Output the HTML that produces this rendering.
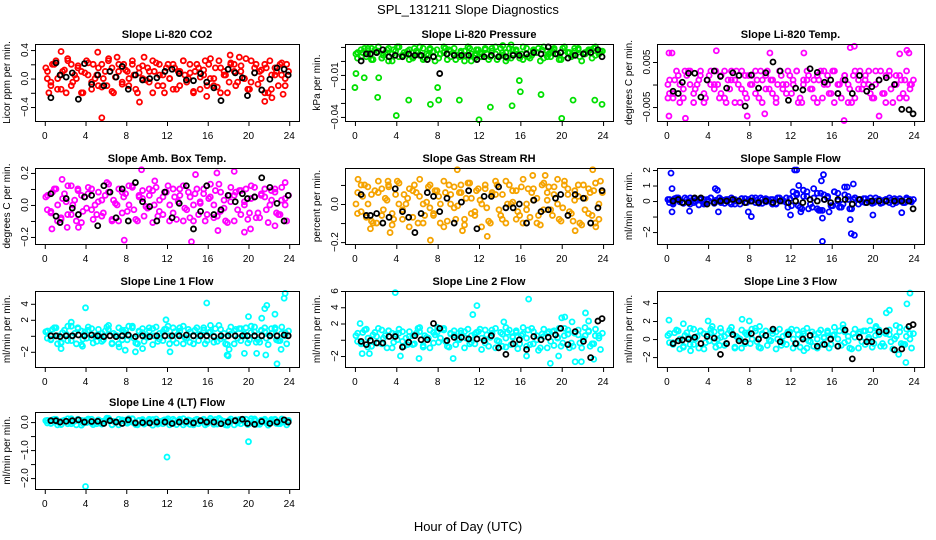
<!DOCTYPE html>
<html><head><meta charset="utf-8">
<style>
html,body{margin:0;padding:0;background:#fff;}
svg{display:block;font-family:"Liberation Sans",Arial,sans-serif;}
</style></head>
<body>
<svg id="chart" width="936" height="540" viewBox="0 0 936 540" xmlns="http://www.w3.org/2000/svg">
<rect width="936" height="540" fill="#fff"/>
<text x="468" y="14" text-anchor="middle" font-size="13">SPL_131211  Slope Diagnostics</text>
<text x="468" y="531" text-anchor="middle" font-size="13">Hour of Day (UTC)</text>
</svg>
<script>
const blackHours = [0.6,1.1,1.5,2.1,2.7,3.3,3.9,4.6,5.2,5.8,6.4,7.0,7.6,8.2,8.9,9.6,10.3,11.0,11.8,12.5,13.2,13.9,14.6,15.3,15.9,16.6,17.3,18.0,18.7,19.4,19.9,20.6,21.3,22.1,22.8,23.5,23.9];
const xTicks = [0,4,8,12,16,20,24];

// Panel 1: CO2
const co2A = [0.15,-0.1,0.25,0.05,-0.2,0.2,0.0,0.1,0.25,-0.15,0.05,0.2,-0.1,0.15,0.3,-0.05,0.1,0.2,-0.2,0.0,0.15,0.25,-0.1,0.05,0.2,-0.15,0.1,0.25,0.0,-0.2,0.15,0.05,0.2,-0.1,0.25,0.1,-0.05,0.2,0.3,0.0,-0.15,0.15,0.1,-0.2,0.25,0.05,0.2,-0.1];
const co2B = [0.0,0.2,-0.15,0.1,0.28,-0.05,0.15,-0.2,0.05,0.2,-0.1,0.0,0.25,-0.2,0.1,0.2,-0.1,0.05,0.15,0.3,-0.05,0.1,0.2,-0.2,0.0,0.15,-0.1,0.05,0.2,0.1,-0.15,0.25,0.0,0.15,-0.2,0.05,0.2,-0.1,0.1,0.28,-0.05,0.2,0.0,0.15,-0.15,0.1,0.05,0.2];
const co2C = [0.1,-0.05,0.2,0.0,-0.15,0.12,0.25,-0.1,0.05,0.18,-0.2,0.08,0.22,-0.05,0.0,0.15,-0.12,0.1,0.28,-0.18,0.02,0.2,-0.08,0.12,0.0,0.25,-0.15,0.08,0.18,-0.02,0.1,-0.2,0.22,0.05,-0.1,0.15,0.0,0.2,-0.15,0.1,0.25,-0.05,0.08,-0.18,0.2,0.02,0.12,-0.1,0.28,0.0,-0.12,0.15,0.05,-0.2,0.22,0.1,-0.05,0.18,0.0,-0.15,0.25,0.08,-0.08,0.12,0.2,-0.2,0.05,0.15,-0.1,0.22,0.0,0.1];
const co2OutH = [0.4,1.6,5.6,9.3,15.9,21.6,22.3,23.4,5.2,18.2];
const co2OutV = [-0.2,0.38,-0.55,-0.33,-0.25,-0.32,-0.27,-0.22,0.37,0.33];
const co2Black = [-0.27,0.22,0.05,0.02,0.08,-0.29,0.21,-0.08,0.05,-0.1,0.1,0.02,0.17,-0.15,0.05,-0.02,0.0,0.01,0.1,0.13,0.07,-0.02,-0.03,0.07,-0.05,-0.13,-0.31,0.13,0.08,0.01,-0.24,0.08,-0.16,-0.01,0.15,0.13,0.05];
const co2Ticks = [-0.4,-0.2,0,0.2,0.4];
const co2Labels = ["-0.4","","0.0","","0.4"];

// Panel 2: Pressure
const prA = [0.005,0.008,0.003,0.009,0.006,0.002,0.008,0.005,0.01,0.004,0.007,0.003,0.006,0.009,0.004,0.007,0.002,0.006,0.008,0.005,0.003,0.007,0.009,0.004,0.006,0.008,0.003,0.005,0.009,0.006,0.002,0.007,0.005,0.009,0.004,0.006,0.008,0.003,0.007,0.005,0.009,0.006,0.004,0.008,0.005,0.007,0.009,0.006];
const prB = [0.002,0.006,0.009,0.001,0.007,0.004,0.0,0.008,0.003,0.006,0.001,0.009,0.004,0.002,0.008,0.0,0.005,0.009,0.003,0.001,0.007,0.004,0.0,0.008,0.003,0.005,0.009,0.001,0.004,0.002,0.008,0.005,0.001,0.003,0.007,0.009,0.002,0.005,0.008,0.001,0.004,0.006,0.009,0.003,0.006,0.008,0.004,0.007];
const prC = [0.006,0.003,0.009,0.005,0.001,0.008,0.01,0.002,0.006,0.009,0.0,0.007,0.01,0.004,0.005,0.008,0.002,0.007,0.01,0.001,0.005,0.009,0.003,0.008,0.005,0.01,0.001,0.007,0.009,0.004,0.006,0.0,0.01,0.005,0.002,0.008,0.005,0.009,0.001,0.007,0.01,0.003,0.006,0.0,0.009,0.005,0.008,0.002,0.01,0.005,0.002,0.008,0.006,0.0,0.01,0.007,0.003,0.009,0.005,0.001,0.01,0.006,0.003,0.007,0.009,0.0,0.005,0.008,0.002,0.01,0.005,0.007];
const prOutH = [0.1,0.0,0.9,2.3,2.2,4.0,5.2,7.3,8.0,8.1,10.1,12.0,13.1,15.2,15.9,16.0,18.0,20.0,21.1,23.2,23.9,14.3,15.1];
const prOutV = [-0.009,-0.019,-0.012,-0.012,-0.026,-0.039,-0.028,-0.031,-0.019,-0.028,-0.028,-0.042,-0.033,-0.032,-0.014,-0.022,-0.024,-0.041,-0.028,-0.028,-0.031,0.011,0.0115];
const prBlack = [0.0,0.005,0.005,0.006,0.008,0.003,0.004,0.003,0.005,0.004,0.004,0.001,0.003,-0.009,0.005,0.004,0.004,0.004,0.001,0.003,0.004,0.003,0.003,0.004,0.004,0.005,0.006,0.005,0.01,0.005,0.006,0.002,0.004,0.005,0.006,0.008,0.003];
const prTicks = [-0.04,-0.03,-0.02,-0.01,0,0.01];
const prLabels = ["-0.04","","","-0.01","",""];

// Panel 3: Li-820 Temp
const ltA = [0.0,-0.003,0.002,-0.001,0.003,-0.004,0.001,-0.002,0.002,0.0,-0.003,0.003,-0.001,0.001,-0.004,0.002,0.0,-0.002,0.003,-0.001,0.001,-0.003,0.002,0.0,-0.002,0.003,-0.004,0.001,-0.001,0.002,-0.003,0.0,0.003,-0.002,0.001,-0.004,0.002,-0.001,0.0,0.003,-0.003,0.001,-0.002,0.002,0.0,-0.003,0.001,-0.001];
const ltB = [-0.002,0.001,-0.004,0.003,0.0,-0.001,0.002,-0.003,0.0,0.003,-0.002,-0.004,0.001,0.003,-0.001,-0.003,0.002,0.001,-0.004,0.003,-0.002,0.0,-0.001,0.003,0.001,-0.004,0.0,0.002,-0.003,0.001,0.003,-0.002,-0.004,0.0,0.002,-0.001,-0.003,0.003,0.001,-0.002,0.0,0.003,-0.004,-0.001,0.002,0.001,-0.003,0.0];
const ltC = [0.001,-0.002,0.003,0.0,-0.003,0.002,0.003,-0.002,0.0,0.003,-0.004,0.001,0.003,-0.001,0.0,0.002,-0.003,0.001,0.003,-0.004,0.0,0.003,-0.002,0.002,0.0,0.003,-0.003,0.001,0.002,-0.001,0.001,-0.004,0.003,0.0,-0.002,0.002,0.0,0.003,-0.003,0.001,0.003,-0.001,0.001,-0.004,0.003,0.0,0.002,-0.002,0.003,0.0,-0.003,0.002,0.0,-0.004,0.003,0.001,-0.001,0.002,0.0,-0.003,0.003,0.001,-0.002,0.002,0.003,-0.004,0.0,0.002,-0.002,0.003,0.0,0.001];
const ltOutH = [0.2,0.5,0.2,1.8,4.8,10.0,13.3,17.2,17.8,18.2,22.6,23.3,23.5,0.1,7.8,20.6,9.5];
const ltOutV = [0.007,0.007,-0.007,-0.0075,0.0075,0.007,0.007,-0.008,0.0082,0.0085,0.0068,0.0076,0.007,-0.003,-0.007,-0.007,-0.0065];
const ltBlack = [-0.0015,-0.002,0.0005,0.0025,0.0025,-0.0028,0.001,0.003,0.0018,-0.0008,0.0026,0.002,-0.0048,0.0021,-0.0008,0.0026,0.005,0.003,-0.0035,-0.0008,-0.0012,0.0035,0.0027,0.0005,0.001,-0.002,0.001,-0.002,0.002,-0.0015,-0.0005,0.001,0.0015,0.0,-0.0055,-0.0056,-0.0065];
const ltTicks = [-0.005,0,0.005];
const ltLabels = ["-0.005","","0.005"];

// Panel 4: Amb. Box Temp
const abA = [0.05,-0.05,0.1,-0.08,0.02,0.12,-0.1,0.06,-0.02,0.1,-0.06,0.03,0.14,-0.09,0.0,0.08,-0.04,0.11,-0.1,0.04,-0.02,0.09,-0.07,0.05,0.12,-0.05,0.02,-0.1,0.08,0.0,-0.06,0.1,0.04,-0.08,0.13,-0.02,0.06,-0.1,0.09,0.02,-0.05,0.11,-0.08,0.05,0.0,0.1,-0.06,0.04];
const abB = [-0.03,0.08,-0.1,0.04,-0.06,0.0,0.1,-0.04,0.07,-0.09,0.02,-0.05,0.08,0.03,-0.1,0.05,0.12,-0.03,0.06,-0.07,0.1,0.0,-0.04,0.08,-0.1,0.05,0.1,-0.02,-0.08,0.07,0.02,-0.1,0.05,0.09,-0.04,-0.1,0.02,0.08,-0.06,0.1,0.04,-0.08,0.06,-0.03,0.09,-0.05,0.03,-0.1];
const abC = [0.06,-0.04,0.1,0.0,-0.09,0.07,0.12,-0.06,0.03,0.09,-0.11,0.05,0.11,-0.03,0.0,0.08,-0.07,0.06,0.13,-0.1,0.01,0.1,-0.05,0.07,0.0,0.12,-0.09,0.05,0.09,-0.01,0.06,-0.11,0.11,0.03,-0.06,0.08,0.0,0.1,-0.09,0.06,0.12,-0.03,0.05,-0.1,0.1,0.01,0.07,-0.06,0.13,0.0,-0.07,0.08,0.03,-0.11,0.11,0.06,-0.03,0.09,0.0,-0.09,0.12,0.05,-0.05,0.07,0.1,-0.11,0.03,0.08,-0.06,0.11,0.0,0.06];
const abOutH = [0.7,1.7,2.2,3.3,7.8,9.5,10.8,14.4,14.8,16.9,17.0,18.6,19.6,20.2,22.6,23.6];
const abOutV = [-0.15,0.16,-0.14,-0.14,-0.22,0.22,0.15,-0.23,0.19,0.2,-0.16,0.21,-0.17,-0.15,-0.13,0.14];
const abBlack = [0.07,-0.07,-0.11,0.04,-0.02,-0.06,0.05,0.06,-0.13,0.12,0.08,-0.08,0.1,-0.1,0.14,0.02,-0.01,-0.1,0.08,-0.08,0.01,0.12,-0.15,-0.04,0.12,-0.06,-0.03,0.06,0.02,0.07,0.04,0.05,0.17,0.11,0.01,-0.1,0.06];
const abTicks = [-0.2,-0.1,0,0.1,0.2];
const abLabels = ["-0.2","","0.0","","0.2"];

// Panel 5: Gas Stream RH
const rhA = [0.0,0.1,-0.07,0.05,-0.1,0.08,0.02,-0.05,0.12,-0.08,0.03,0.07,-0.1,0.0,0.09,-0.06,0.04,-0.12,0.1,-0.02,0.06,-0.08,0.11,-0.04,0.02,0.08,-0.1,0.05,-0.06,0.12,0.0,-0.08,0.09,-0.03,0.06,-0.1,0.1,0.02,-0.06,0.13,-0.02,0.08,-0.09,0.04,0.1,-0.05,0.07,-0.08];
const rhB = [-0.05,0.04,0.09,-0.1,0.06,-0.03,0.1,-0.08,0.0,0.05,-0.12,0.1,0.04,-0.06,-0.02,0.07,-0.1,0.06,0.0,-0.08,0.1,0.03,-0.05,0.07,-0.12,-0.02,0.05,0.1,-0.08,0.0,0.07,-0.04,-0.1,0.08,0.02,-0.06,-0.03,0.09,0.05,-0.08,0.1,-0.04,0.02,-0.1,-0.03,0.06,-0.1,0.12];
const rhC = [0.06,-0.04,0.1,0.0,-0.09,0.07,0.12,-0.06,0.03,0.09,-0.11,0.05,0.11,-0.03,0.0,0.08,-0.07,0.06,0.13,-0.1,0.01,0.1,-0.05,0.07,0.0,0.12,-0.09,0.05,0.09,-0.01,0.06,-0.11,0.11,0.03,-0.06,0.08,0.0,0.1,-0.09,0.06,0.12,-0.03,0.05,-0.1,0.1,0.01,0.07,-0.06,0.13,0.0,-0.07,0.08,0.03,-0.11,0.11,0.06,-0.03,0.09,0.0,-0.09,0.12,0.05,-0.05,0.07,0.1,-0.11,0.03,0.08,-0.06,0.11,0.0,0.06];
const rhOutH = [0.3,1.5,3.4,7.3,9.9,10.4,12.8,17.2,18.4,21.3,23.0,23.3,3.2];
const rhOutV = [0.13,-0.13,-0.15,-0.19,0.18,-0.14,-0.17,0.15,0.15,-0.14,0.18,-0.12,0.12];
const rhBlack = [0.05,-0.06,-0.06,-0.05,-0.1,-0.07,0.08,-0.04,-0.07,-0.15,-0.05,0.06,0.04,-0.04,0.03,-0.1,0.01,0.07,-0.13,0.04,0.04,0.09,-0.02,-0.02,0.0,-0.1,0.02,-0.04,-0.03,0.03,0.05,-0.06,0.05,0.03,-0.1,-0.02,0.07];
const rhTicks = [-0.2,-0.1,0,0.1];
const rhLabels = ["-0.2","","0.0",""];

// Panel 6: Sample Flow
const sfA = [0.1,-0.2,0.2,-0.1,0.0,0.15,-0.25,0.1,0.0,-0.15,0.2,0.05,-0.1,0.1,-0.2,0.15,0.0,-0.1,0.2,-0.05,0.1,-0.15,0.05,0.2,-0.3,0.4,-0.5,0.3,-0.4,0.5,-0.6,0.2,-0.3,0.5,-0.2,0.3,0.1,-0.2,0.15,0.0,-0.1,0.1,0.05,-0.1,0.15,0.0,-0.1,0.1];
const sfB = [-0.1,0.15,-0.05,0.2,-0.2,0.0,0.1,-0.15,0.2,0.05,-0.1,0.1,-0.2,0.0,0.15,-0.1,0.2,0.05,-0.15,0.1,-0.2,0.2,0.0,-0.4,0.6,-0.3,0.7,-0.5,0.8,-0.6,0.4,-0.7,0.6,-0.4,0.9,-0.5,0.2,0.1,-0.1,0.2,0.0,-0.15,0.1,0.05,-0.1,0.0,0.1,-0.05];
const sfC = [0.1,-0.1,0.2,0.0,-0.15,0.1,0.2,-0.1,0.05,0.15,-0.2,0.1,0.2,-0.05,0.0,0.1,-0.15,0.1,0.2,-0.2,0.0,0.15,-0.1,0.1,0.0,0.2,-0.15,0.1,0.15,0.0,0.1,-0.2,0.2,0.05,-0.1,0.15,0.3,0.5,-0.4,0.3,0.6,-0.2,0.2,-0.5,0.5,0.1,0.3,-0.3,0.6,0.0,-0.4,0.4,0.1,-0.5,0.2,0.1,-0.05,0.15,0.0,-0.15,0.2,0.1,-0.1,0.1,0.2,-0.2,0.05,0.15,-0.1,0.2,0.0,0.1];
const sfOutH = [0.4,0.5,0.5,2.2,4.7,4.9,5.0,7.9,8.2,12.0,12.4,12.6,12.8,13.0,15.0,15.2,14.9,15.1,17.8,17.9,18.1,18.2,20.0,22.8,17.5,15.1];
const sfOutV = [1.8,0.8,-0.7,-0.65,0.8,0.7,-0.7,-0.7,-1.0,-0.9,2.0,2.0,1.0,-0.7,1.3,1.7,-0.6,-2.6,-1.2,-2.1,1.1,-2.2,-0.9,-0.75,0.9,-1.1];
const sfBlack = [0.0,0.1,-0.1,-0.1,0.2,0.2,-0.2,-0.1,0.0,0.0,0.1,0.0,-0.1,0.0,-0.1,0.0,-0.1,0.0,-0.1,0.0,-0.1,0.1,0.0,0.1,-0.1,0.1,0.1,-0.2,0.1,-0.1,0.0,0.0,0.0,0.0,0.0,0.0,-0.5];
const sfTicks = [-2,-1,0,1,2];
const sfLabels = ["-2","","0","1","2"];

// Panel 7: Line 1 Flow
const l1A = [0.5,-0.5,1.0,-0.8,0.2,1.2,-1.0,0.6,-0.3,0.9,-0.7,0.3,1.1,-0.9,0.0,0.7,-0.5,1.0,-1.0,0.4,-0.2,0.9,-0.7,0.5,1.2,-0.5,0.2,-1.0,0.8,0.0,-0.6,1.0,0.4,-0.8,1.3,-0.2,0.6,-1.0,0.9,0.2,-0.5,1.1,-0.8,0.5,0.0,1.0,-0.6,0.4];
const l1B = [-0.3,0.8,-1.0,0.4,-0.6,0.0,1.0,-0.4,0.7,-0.9,0.2,-0.5,0.8,0.3,-1.0,0.5,1.2,-0.3,0.6,-0.7,1.0,0.0,-0.4,0.8,-1.0,0.5,1.0,-0.2,-0.8,0.7,0.2,-1.0,0.5,0.9,-0.4,-1.0,0.2,0.8,-0.6,1.0,0.4,-0.8,0.6,-0.3,0.9,-0.5,0.3,-1.0];
const l1C = [0.6,-0.4,1.0,0.0,-0.9,0.7,1.2,-0.6,0.3,0.9,-1.1,0.5,1.1,-0.3,0.0,0.8,-0.7,0.6,1.3,-1.0,0.1,1.0,-0.5,0.7,0.0,1.2,-0.9,0.5,0.9,-0.1,0.6,-1.1,1.1,0.3,-0.6,0.8,0.0,1.0,-0.9,0.6,1.2,-0.3,0.5,-1.0,1.0,0.1,0.7,-0.6,1.3,0.0,-0.7,0.8,0.3,-1.1,1.1,0.6,-0.3,0.9,0.0,-0.9,1.2,0.5,-0.5,0.7,1.0,-1.1,0.3,0.8,-0.6,1.1,0.0,0.6];
const l1OutH = [1.6,2.6,3.7,4.0,7.3,7.9,8.9,9.6,11.9,12.3,15.9,18.0,18.1,19.6,20.0,20.8,21.3,21.6,21.7,21.8,22.6,22.8,23.2,23.5,23.6,17.9];
const l1OutV = [-1.6,1.7,-1.3,3.5,-1.4,-1.8,-2.0,-1.6,2.0,-2.0,4.1,-2.5,-1.7,-2.2,2.4,-2.2,2.2,3.4,-2.4,3.8,2.7,-3.5,-1.7,4.7,5.3,-2.4];
const l1Black = [0,0,-0.1,0,0,0.1,0,0.1,0,-0.1,0,-0.1,0,0.1,-0.1,0,-0.1,0,0,0,0,0.1,0,0,0,-0.1,0,0,0,0,0,0,0,0,0,0.1,0];
const l1Ticks = [-2,0,2,4];
const l1Labels = ["-2","","2","4"];

// Panel 8: Line 2 Flow
const l2A = [0.5,-0.5,1.3,-0.8,0.4,1.2,-1.0,0.8,0.0,1.0,-0.6,0.5,1.4,-0.7,0.2,0.9,-0.3,1.2,-0.9,0.6,0.0,1.0,-0.5,0.7,1.3,-0.4,0.3,-1.0,0.9,0.2,-0.6,1.1,0.5,-0.8,1.4,0.0,0.7,-1.0,1.0,0.3,-0.4,1.2,-0.8,0.6,0.1,1.1,-0.5,0.5];
const l2B = [-0.2,0.9,-0.9,0.6,-0.4,0.2,1.1,-0.3,0.8,-0.8,0.4,-0.5,1.0,0.5,-1.0,0.6,1.3,-0.2,0.8,-0.6,1.1,0.2,-0.3,0.9,-1.2,0.6,1.2,-0.1,-0.8,0.9,0.4,-1.1,0.7,1.2,-0.5,-1.3,0.4,1.0,-0.7,1.4,0.5,-1.0,0.8,-0.4,1.5,-0.8,0.5,-1.2];
const l2C = [0.8,-0.3,1.2,0.2,-0.8,0.9,1.4,-0.5,0.5,1.1,-1.0,0.7,1.3,-0.2,0.2,1.0,-0.6,0.8,1.5,-0.9,0.3,1.2,-0.4,0.9,0.2,1.4,-0.8,0.7,1.1,0.1,0.8,-1.0,1.3,0.5,-0.5,1.0,0.2,1.2,-0.8,0.8,1.4,-0.2,0.7,-0.9,1.2,0.3,0.9,-0.5,1.5,0.2,-0.6,1.0,0.5,-1.0,1.3,0.8,-0.2,1.1,0.2,-0.8,1.4,0.7,-0.4,0.9,1.2,-1.0,0.5,1.0,-0.5,1.3,0.2,0.8];
const l2OutH = [0.5,0.7,1.4,3.9,4.4,6.2,9.5,11.4,11.8,14.4,14.6,16.8,16.6,18.9,19.7,20.0,21.0,21.3,21.9,22.3,22.6,23.1,20.3,8.0];
const l2OutV = [2.0,-1.7,-1.7,5.8,-2.0,-2.3,-2.3,3.1,4.2,2.2,1.5,5.0,-2.0,-2.9,-2.0,2.7,2.2,-2.7,-2.7,3.3,2.3,-2.4,2.8,1.5];
const l2Black = [-0.2,-0.6,-0.1,-0.4,-0.4,0.4,0.4,-0.9,-0.3,0.5,0.0,0.0,2.0,1.4,-0.1,0.3,0.3,0.1,0.1,-0.1,0.5,-1.0,-1.8,-0.5,0.0,-1.2,0.4,0.0,0.3,0.6,1.4,-0.6,1.0,-0.2,-2.2,2.3,2.6];
const l2Ticks = [-2,0,2,4,6];
const l2Labels = ["-2","","2","4","6"];

// Panel 9: Line 3 Flow
const l3A = [0.4,-0.6,0.9,-0.8,0.2,1.1,-1.0,0.6,-0.2,0.8,-0.7,0.3,1.0,-0.9,0.0,0.7,-0.5,0.9,-1.0,0.4,-0.2,0.8,-0.7,0.5,1.1,-0.5,0.2,-1.0,0.8,0.0,-0.6,0.9,0.4,-0.8,1.2,-0.2,0.6,-1.0,0.9,0.2,-0.5,1.0,-0.8,0.5,0.0,1.3,-0.6,0.6];
const l3B = [-0.4,0.7,-1.1,0.4,-0.6,0.0,0.9,-0.4,0.7,-0.9,0.2,-0.5,0.8,0.3,-1.0,0.5,1.1,-0.3,0.6,-0.7,0.9,0.0,-0.4,0.8,-1.0,0.5,0.9,-0.2,-0.8,0.7,0.2,-1.0,0.5,0.9,-0.4,-1.0,0.2,0.8,-0.6,1.0,0.4,-0.8,0.6,-0.3,1.5,-0.5,0.3,-1.0];
const l3C = [0.6,-0.4,1.0,0.0,-0.9,0.7,1.2,-0.6,0.3,0.9,-1.1,0.5,1.1,-0.3,0.0,0.8,-0.7,0.6,1.3,-1.0,0.1,1.0,-0.5,0.7,0.0,1.2,-0.9,0.5,0.9,-0.1,0.6,-1.1,1.1,0.3,-0.6,0.8,0.0,1.0,-0.9,0.6,1.2,-0.3,0.5,-1.0,1.0,0.1,0.7,-0.6,1.3,0.0,-0.7,0.8,0.3,-1.1,1.1,0.6,-0.3,0.9,0.0,-0.9,1.2,0.5,-0.5,0.7,1.0,-1.1,0.3,0.8,-0.6,1.1,0.0,0.6];
const l3OutH = [0.2,1.6,2.3,4.0,4.4,7.3,8.0,9.0,17.1,19.7,20.3,21.3,21.6,23.3,23.6,22.5,23.2,5.2,13.3];
const l3OutV = [2.1,1.7,-1.3,2.0,1.4,2.2,2.0,1.4,1.6,2.0,1.4,2.9,3.2,3.9,5.1,-1.7,-2.6,1.2,-1.3];
const l3Black = [-0.5,-0.2,-0.1,0.0,0.2,-0.5,0.3,0.1,-1.7,-0.5,0.5,-0.2,-0.3,0.6,0.0,0.4,1.1,-0.3,0.5,-0.5,0.0,0.4,-0.8,-0.6,0.0,-0.8,1.0,-2.2,0.2,-0.3,-0.3,0.8,0.9,-1.2,-1.1,1.4,1.6];
const l3Ticks = [-2,0,2,4];
const l3Labels = ["-2","0","2","4"];

// Panel 10: Line 4 (LT) Flow
const l4A = [0.05,-0.05,0.1,-0.08,0.02,0.12,-0.1,0.06,-0.02,0.1,-0.06,0.03,0.14,-0.09,0.0,0.08,-0.04,0.11,-0.1,0.04,-0.02,0.09,-0.07,0.05,0.12,-0.05,0.02,-0.1,0.08,0.0,-0.06,0.1,0.04,-0.08,0.13,-0.02,0.06,-0.1,0.09,0.02,-0.05,0.11,-0.08,0.05,0.0,0.1,-0.06,0.04];
const l4B = [-0.03,0.08,-0.1,0.04,-0.06,0.0,0.1,-0.04,0.07,-0.09,0.02,-0.05,0.08,0.03,-0.1,0.05,0.12,-0.03,0.06,-0.07,0.1,0.0,-0.04,0.08,-0.1,0.05,0.1,-0.02,-0.08,0.07,0.02,-0.1,0.05,0.09,-0.04,-0.1,0.02,0.08,-0.06,0.1,0.04,-0.08,0.06,-0.03,0.09,-0.05,0.03,-0.1];
const l4C = [0.06,-0.04,0.1,0.0,-0.09,0.07,0.12,-0.06,0.03,0.09,-0.11,0.05,0.11,-0.03,0.0,0.08,-0.07,0.06,0.13,-0.1,0.01,0.1,-0.05,0.07,0.0,0.12,-0.09,0.05,0.09,-0.01,0.06,-0.11,0.11,0.03,-0.06,0.08,0.0,0.1,-0.09,0.06,0.12,-0.03,0.05,-0.1,0.1,0.01,0.07,-0.06,0.13,0.0,-0.07,0.08,0.03,-0.11,0.11,0.06,-0.03,0.09,0.0,-0.09,0.12,0.05,-0.05,0.07,0.1,-0.11,0.03,0.08,-0.06,0.11,0.0,0.06];
const l4OutH = [4.0,12.0,20.0];
const l4OutV = [-2.3,-1.25,-0.7];
const l4Black = [0.05,0.05,0.0,0.03,0.05,0.08,0.0,0.02,0.03,-0.05,0.05,0.0,-0.05,0.08,-0.03,-0.02,-0.03,0.0,0.0,-0.05,0.0,0.02,-0.03,0.05,0.0,0.0,-0.06,0.0,0.05,0.1,-0.05,-0.08,0.02,-0.05,0.0,0.08,0.0];
const l4Ticks = [-2.0,-1.5,-1.0,-0.5,0.0];
const l4Labels = ["-2.0","","-1.0","","0.0"];

const NS = "http://www.w3.org/2000/svg";
const svg = document.getElementById('chart');
function el(tag, attrs, parent){
  const e = document.createElementNS(NS, tag);
  for (const k in attrs) e.setAttribute(k, attrs[k]);
  (parent||svg).appendChild(e);
  return e;
}
const cols = [[35,299],[345,613],[657,924]];
const rows = [[44,121],[168,244],[291,367],[412,489]];
const panels = [
 {id:'co2',title:'Slope Li-820 CO2',yl:'Licor ppm per min.',c:0,r:0,ymin:-0.596,ymax:0.485,col:'#ff0000',S:[co2A,co2B,co2C],oh:co2OutH,ov:co2OutV,bk:co2Black,t:co2Ticks,tl:co2Labels},
 {id:'pressure',title:'Slope Li-820 Pressure',yl:'kPa per min.',c:1,r:0,ymin:-0.0429,ymax:0.0121,col:'#00e000',S:[prA,prB,prC],oh:prOutH,ov:prOutV,bk:prBlack,t:prTicks,tl:prLabels},
 {id:'li820-temp',title:'Slope Li-820 Temp.',yl:'degrees C per min.',c:2,r:0,ymin:-0.0081,ymax:0.009,col:'#ff00ff',S:[ltA,ltB,ltC],oh:ltOutH,ov:ltOutV,bk:ltBlack,t:ltTicks,tl:ltLabels},
 {id:'amb-box-temp',title:'Slope Amb. Box Temp.',yl:'degrees C per min.',c:0,r:1,ymin:-0.244,ymax:0.231,col:'#ff00ff',S:[abA,abB,abC],oh:abOutH,ov:abOutV,bk:abBlack,t:abTicks,tl:abLabels},
 {id:'gas-stream-rh',title:'Slope Gas Stream RH',yl:'percent per min.',c:1,r:1,ymin:-0.21,ymax:0.189,col:'#f5a300',S:[rhA,rhB,rhC],oh:rhOutH,ov:rhOutV,bk:rhBlack,t:rhTicks,tl:rhLabels},
 {id:'sample-flow',title:'Slope Sample Flow',yl:'ml/min per min.',c:2,r:1,ymin:-2.77,ymax:2.13,col:'#0000ff',S:[sfA,sfB,sfC],oh:sfOutH,ov:sfOutV,bk:sfBlack,t:sfTicks,tl:sfLabels},
 {id:'line1-flow',title:'Slope Line 1 Flow',yl:'ml/min per min.',c:0,r:2,ymin:-3.9,ymax:5.6,col:'#00ffff',S:[l1A,l1B,l1C],oh:l1OutH,ov:l1OutV,bk:l1Black,t:l1Ticks,tl:l1Labels},
 {id:'line2-flow',title:'Slope Line 2 Flow',yl:'ml/min per min.',c:1,r:2,ymin:-3.35,ymax:6.0,col:'#00ffff',S:[l2A,l2B,l2C],oh:l2OutH,ov:l2OutV,bk:l2Black,t:l2Ticks,tl:l2Labels},
 {id:'line3-flow',title:'Slope Line 3 Flow',yl:'ml/min per min.',c:2,r:2,ymin:-3.1,ymax:5.33,col:'#00ffff',S:[l3A,l3B,l3C],oh:l3OutH,ov:l3OutV,bk:l3Black,t:l3Ticks,tl:l3Labels},
 {id:'line4-flow',title:'Slope Line 4 (LT) Flow',yl:'ml/min per min.',c:0,r:3,ymin:-2.39,ymax:0.36,col:'#00ffff',S:[l4A,l4B,l4C],oh:l4OutH,ov:l4OutV,bk:l4Black,t:l4Ticks,tl:l4Labels}
];
panels.forEach(p=>{
  const [x0,x1] = cols[p.c], [y0,y1] = rows[p.r];
  const g = el('g',{});
  
  
  const xs = h => x0 + (h + 0.96) / 25.92 * (x1 - x0);
  const ys = v => y1 - (v - p.ymin) / (p.ymax - p.ymin) * (y1 - y0);
  const t = el('text',{x:(x0+x1)/2,y:y0-6,'text-anchor':'middle','font-size':11,'font-weight':'bold'},g);
  t.textContent = p.title;
  
  
  const yl = el('text',{x:0,y:0,'text-anchor':'middle','font-size':10,transform:`translate(${x0-25},${(y0+y1)/2}) rotate(-90)`},g);
  yl.textContent = p.yl;
  
  
  const pts = el('g',{fill:'none','stroke-width':1.8},g);
  
  
  p.S.forEach((arr,k)=>{
    arr.forEach((v,i)=>{
      const h = (i + 0.2 + 0.3*k) * 24 / arr.length;
      const c = el('circle',{cx:xs(h),cy:ys(v),r:2.5,stroke:p.col},pts);
      
      
    });
  });
  p.oh.forEach((h,i)=>{
    const c = el('circle',{cx:xs(h),cy:ys(p.ov[i]),r:2.5,stroke:p.col},pts);
    
    
  });
  p.bk.forEach((v,i)=>{
    if (i >= blackHours.length) return;
    const c = el('circle',{cx:xs(blackHours[i]),cy:ys(v),r:2.5,stroke:'#000'},pts);
    
    
  });
  const box = el('rect',{x:x0+0.5,y:y0+0.5,width:x1-x0,height:y1-y0,fill:'none',stroke:'#000','stroke-width':1},g);
  
  
  const xa = el('g',{},g);
  
  
  el('line',{x1:xs(0),x2:xs(24),y1:y1+0.5,y2:y1+0.5,stroke:'#000'},xa);
  xTicks.forEach(h=>{
    el('line',{x1:xs(h)+0.5,x2:xs(h)+0.5,y1:y1,y2:y1+5,stroke:'#000'},xa);
    const tx = el('text',{x:xs(h),y:y1+18,'text-anchor':'middle','font-size':10},xa);
    tx.textContent = h;
  });
  const ya = el('g',{},g);
  
  
  el('line',{x1:x0+0.5,x2:x0+0.5,y1:ys(p.t[0]),y2:ys(p.t[p.t.length-1]),stroke:'#000'},ya);
  p.t.forEach((v,i)=>{
    const yy = ys(v);
    el('line',{x1:x0-4,x2:x0,y1:yy+0.5,y2:yy+0.5,stroke:'#000'},ya);
    if (p.tl[i]) {
      const tx = el('text',{x:0,y:0,'text-anchor':'middle','font-size':10,transform:`translate(${x0-7},${yy}) rotate(-90)`},ya);
      tx.textContent = p.tl[i].replace('-', '\u2212');
    }
  });
});
</script>
</body></html>
